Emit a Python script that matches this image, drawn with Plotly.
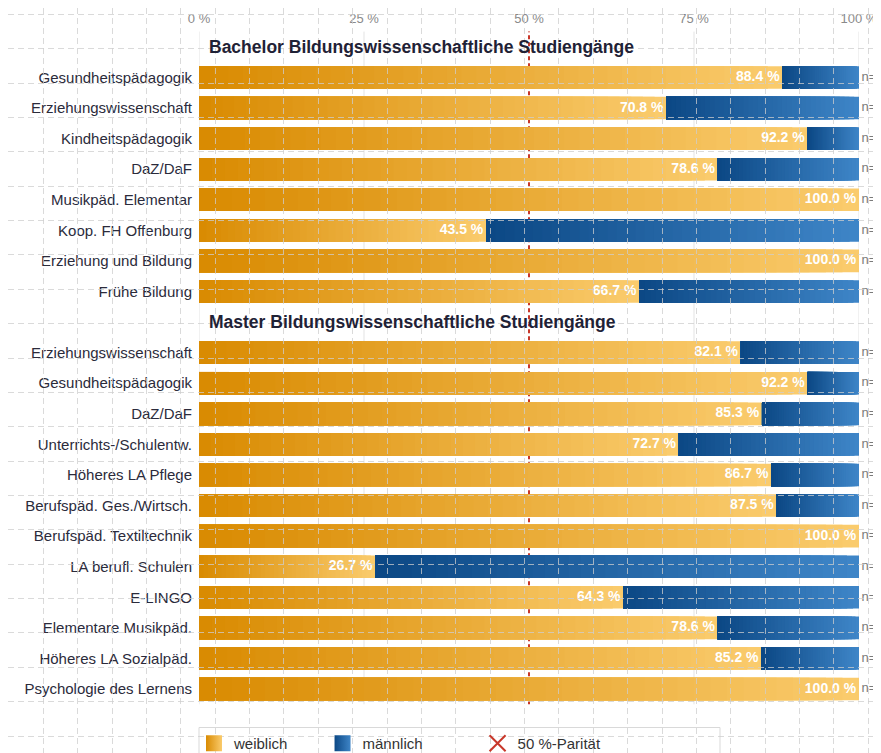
import plotly.graph_objects as go

# Studiengänge und Frauenanteil (%)
bachelor_title = "Bachelor Bildungswissenschaftliche Studiengänge"
bachelor_labels = ["Gesundheitspädagogik", "Erziehungswissenschaft", "Kindheitspädagogik",
                   "DaZ/DaF", "Musikpäd. Elementar", "Koop. FH Offenburg",
                   "Erziehung und Bildung", "Frühe Bildung"]
bachelor_female = [88.4, 70.8, 92.2, 78.6, 100.0, 43.5, 100.0, 66.7]
bachelor_n = [112, 312, 231, 14, 4, 62, 3, 30]

master_title = "Master Bildungswissenschaftliche Studiengänge"
master_labels = ["Erziehungswissenschaft", "Gesundheitspädagogik", "DaZ/DaF",
                 "Unterrichts-/Schulentw.", "Höheres LA Pflege", "Berufspäd. Ges./Wirtsch.",
                 "Berufspäd. Textiltechnik", "LA berufl. Schulen", "E-LINGO",
                 "Elementare Musikpäd.", "Höheres LA Sozialpäd.", "Psychologie des Lernens"]
master_female = [82.1, 92.2, 85.3, 72.7, 86.7, 87.5, 100.0, 26.7, 64.3, 78.6, 85.2, 100.0]
master_n = [134, 38, 34, 22, 15, 24, 3, 15, 14, 14, 27, 11]

x_ticks = [0, 25, 50, 75, 100]
parity = 50

# one empty slot for each group title
labels = [""] + bachelor_labels + [""] + master_labels
female = [None] + bachelor_female + [None] + master_female
counts = [None] + bachelor_n + [None] + master_n
male = [None if f is None else round(100 - f, 1) for f in female]
rows = list(range(len(labels)))

FONT = "Liberation Sans, Arial, sans-serif"
# page has an 8px body margin, so the figure sits 8px in from the window corner
W, H = 873, 745
x0_px, x1_px = 191, 851
y_top, y_bot = 23.6, 696.3
NB = "&nbsp;"


def rgb(c):
    return "rgb(%d,%d,%d)" % c


def mix(c1, c2, t):
    return rgb(tuple(round(a + (b - a) * t) for a, b in zip(c1, c2)))


orange = ((217, 139, 2), (250, 203, 108))
blue = ((12, 72, 133), (62, 133, 199))
series = [("weiblich", female, [0] * len(rows), orange, 7),
          ("männlich", male, female, blue, 12)]

fig = go.Figure()

# gradient bars: overlapping layers, each shorter and darker than the one before
N = 40
for name, vals, base, (dark, light), pad in series:
    for j in range(N):
        frac = (N - j) / N
        t = (N - 1 - j) / (N - 1)
        fig.add_trace(go.Bar(
            y=rows, x=[None if v is None else v * frac for v in vals],
            base=[0 if b is None else b for b in base],
            orientation="h", name=name, legendgroup=name, showlegend=False,
            marker=dict(color=mix(dark, light, t), line=dict(width=0)),
            hoverinfo="skip",
        ))

# percent labels inside the female bar
fig.add_trace(go.Scatter(
    x=female, y=rows, mode="text",
    text=["" if f is None else f"{f:.1f} %&#8201;" for f in female],
    textposition="middle left",
    textfont=dict(family=FONT, size=14, color="white", weight="bold"),
    showlegend=False, hoverinfo="skip", cliponaxis=False,
))

# n= labels right of the bars
fig.add_trace(go.Scatter(
    x=[None if c is None else 100 for c in counts], y=rows, mode="text",
    text=["" if c is None else f"&#8201;n={c}" for c in counts],
    textposition="middle right",
    textfont=dict(family=FONT, size=13, color="#7a7a7a"),
    showlegend=False, hoverinfo="skip", cliponaxis=False,
))

# legend swatches with the same gradient as the bars
for name, vals, base, (dark, light), pad in series:
    fig.add_trace(go.Scatter(
        x=[None], y=[None], mode="markers", name=name + NB * pad, legendgroup=name,
        marker=dict(symbol="square", size=16, color=rgb(dark), line=dict(width=0),
                    gradient=dict(type="horizontal", color=rgb(light))),
        hoverinfo="skip",
    ))

# legend entry for the parity line
fig.add_trace(go.Scatter(
    x=[None], y=[None], mode="markers", name="50 %-Parität",
    marker=dict(symbol="x-thin-open", size=16, line=dict(width=2, color="#c8372a"), color="#c8372a"),
    hoverinfo="skip",
))

# dashed page grid laid over everything
fig.add_trace(go.Scatter(x=[None], y=[None], xaxis="x2", yaxis="y2",
                         showlegend=False, hoverinfo="skip"))

# light value grid and the dashed parity line, below the bars
for v in x_ticks:
    if v != parity:
        fig.add_shape(type="line", x0=v, x1=v, xref="x", y0=0, y1=1, yref="y domain",
                      layer="below", line=dict(color="#e3e3e3", width=1))
fig.add_shape(type="line", x0=parity, x1=parity, xref="x", y0=0, y1=1, yref="y domain",
              layer="below", line=dict(color="#c8372a", width=2, dash="4px,3px"))

# legend frame
fig.add_shape(type="rect", xref="paper", yref="paper",
              x0=x0_px / W, x1=712 / W, y0=-0.05, y1=1 - 719.5 / H,
              layer="below", line=dict(color="#d9d9d9", width=1), fillcolor="rgba(0,0,0,0)")

for idx, title in [(0, bachelor_title), (len(bachelor_labels) + 1, master_title)]:
    fig.add_annotation(x=0, y=idx, xref="x", yref="y", text=f"<b>{title}</b>",
                       showarrow=False, xanchor="left", xshift=8,
                       font=dict(family=FONT, size=17.5, color="#1f2236"))

grid_style = dict(showgrid=True, gridcolor="rgba(205,205,205,0.75)", griddash="6px,4px",
                  gridwidth=1, showticklabels=False, zeroline=False, showline=False,
                  ticks="", fixedrange=True)

fig.update_layout(
    width=W, height=H, autosize=False,
    margin=dict(l=0, r=0, t=0, b=0, pad=0, autoexpand=False),
    paper_bgcolor="white", plot_bgcolor="rgba(0,0,0,0)",
    barmode="overlay", bargap=0.26,
    font=dict(family=FONT, size=15, color="#2b2b3b"),
    xaxis=dict(domain=[x0_px / W, x1_px / W], range=[0, 100], side="top",
               tickvals=x_ticks, ticktext=[f"{v} %" for v in x_ticks],
               tickfont=dict(size=13, color="#8a8a8a"), ticks="", ticklabelstandoff=5,
               showgrid=False, zeroline=False, showline=False, fixedrange=True),
    yaxis=dict(domain=[1 - y_bot / H, 1 - y_top / H], range=[len(rows) - 0.5, -0.5],
               tickvals=rows, ticktext=labels, ticks="", ticklabelstandoff=6,
               tickfont=dict(size=15, color="#2b2b3b"),
               showgrid=False, zeroline=False, showline=False, fixedrange=True),
    xaxis2=dict(domain=[0, 1], anchor="y2", range=[0, W], tick0=1, dtick=34.37, **grid_style),
    yaxis2=dict(domain=[0, 1], anchor="x2", range=[H, 0], tick0=6.3, dtick=34.37, **grid_style),
    legend=dict(orientation="h", x=186 / W, xanchor="left", y=1 - 719 / H, yanchor="top",
                bgcolor="rgba(0,0,0,0)", borderwidth=0,
                font=dict(family=FONT, size=15, color="#333333"),
                traceorder="normal"),
)

# the figure runs past the window bottom; keep the page from getting scrollbars
fig.write_html("out.html", post_script="document.body.style.overflow='hidden';")
